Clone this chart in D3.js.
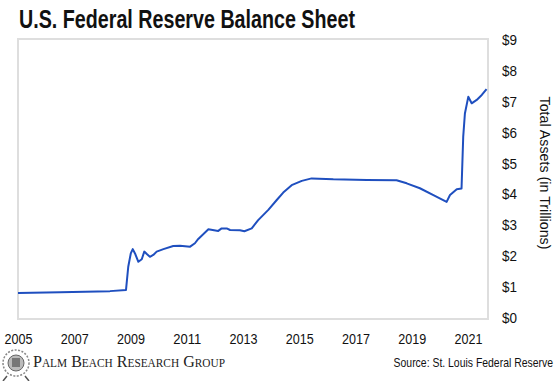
<!DOCTYPE html>
<html>
<head>
<meta charset="utf-8">
<script src="https://cdn.jsdelivr.net/npm/d3@7"></script>
<style>
  body { margin: 0; background: #fff; }
  svg { display: block; }
</style>
</head>
<body>
<div class="chart"></div>
<script>
// data (decimal year, $ trillions)
var years = [2005.0, 2006.5, 2008.27, 2008.84, 2008.92, 2009.01, 2009.08, 2009.16, 2009.28, 2009.4,
  2009.49, 2009.58, 2009.69, 2009.81, 2009.93, 2010.17, 2010.52, 2010.76, 2011.12, 2011.29,
  2011.41, 2011.77, 2012.12, 2012.24, 2012.42, 2012.54, 2012.89, 2013.05, 2013.31, 2013.54,
  2013.9, 2014.2, 2014.43, 2014.73, 2015.09, 2015.44, 2016.21, 2017.4, 2018.46, 2018.82,
  2019.29, 2019.77, 2020.24, 2020.36, 2020.6, 2020.77, 2020.83, 2020.89, 2021.01, 2021.13,
  2021.31, 2021.49, 2021.66];
var assets = [0.81, 0.83, 0.87, 0.91, 1.66, 2.09, 2.23, 2.09, 1.82, 1.9,
  2.15, 2.07, 1.98, 2.04, 2.15, 2.23, 2.33, 2.34, 2.31, 2.42,
  2.56, 2.87, 2.82, 2.9, 2.9, 2.85, 2.84, 2.81, 2.9, 3.17,
  3.5, 3.82, 4.06, 4.3, 4.44, 4.52, 4.49, 4.47, 4.46, 4.36,
  4.2, 3.98, 3.76, 3.98, 4.17, 4.19, 5.87, 6.62, 7.16, 6.95,
  7.06, 7.22, 7.41];
var xTicks = [2005, 2007, 2009, 2011, 2013, 2015, 2017, 2019, 2021];
var yTicks = [0, 1, 2, 3, 4, 5, 6, 7, 8, 9];

var svgWidth = 560;
var svgHeight = 381;

var svg = d3.select(".chart")
  .append("svg")
  .attr("width", svgWidth)
  .attr("height", svgHeight)
  .style("font-family", "'Liberation Sans', Arial, sans-serif");

// plot frame
var frame = { left: 18, right: 488, top: 39, bottom: 319 };

var xScale = d3.scaleLinear().domain([2005, 2021]).range([18, 468]);
var yScale = d3.scaleLinear().domain([0, 9]).range([318, 40]);

// title
svg.append("text")
  .attr("x", 19)
  .attr("y", 28)
  .attr("font-size", 26)
  .attr("font-weight", "bold")
  .attr("fill", "#111")
  .attr("textLength", 336)
  .attr("lengthAdjust", "spacingAndGlyphs")
  .text("U.S. Federal Reserve Balance Sheet");

svg.append("rect")
  .attr("x", frame.left)
  .attr("y", frame.top)
  .attr("width", frame.right - frame.left)
  .attr("height", frame.bottom - frame.top)
  .attr("fill", "none")
  .attr("stroke", "#dedede")
  .attr("stroke-width", 2);

// y axis on the right, labels only
var yAxis = d3.axisRight(yScale)
  .tickValues(yTicks)
  .tickSize(0)
  .tickPadding(0)
  .tickFormat(d => "$" + d);

svg.append("g")
  .attr("transform", "translate(502, 0)")
  .call(yAxis)
  .call(g => g.select(".domain").remove())
  .selectAll("text")
  .attr("font-size", 14)
  .attr("fill", "#111")
  .attr("textLength", 15)
  .attr("lengthAdjust", "spacingAndGlyphs");

// x axis labels
var xAxis = d3.axisBottom(xScale)
  .tickValues(xTicks)
  .tickSize(0)
  .tickPadding(0)
  .tickFormat(d => String(d));

svg.append("g")
  .attr("transform", "translate(0, 334)")
  .call(xAxis)
  .call(g => g.select(".domain").remove())
  .selectAll("text")
  .attr("font-size", 14)
  .attr("fill", "#111")
  .attr("textLength", 28)
  .attr("lengthAdjust", "spacingAndGlyphs");

svg.selectAll(".tick text").attr("font-family", "'Liberation Sans', Arial, sans-serif");

// axis title
svg.append("text")
  .attr("transform", "translate(540, 173) rotate(90)")
  .attr("text-anchor", "middle")
  .attr("font-size", 15)
  .attr("fill", "#111")
  .attr("textLength", 153)
  .attr("lengthAdjust", "spacingAndGlyphs")
  .text("Total Assets (in Trillions)");

// the line
var line = d3.line()
  .x((d, i) => xScale(years[i]))
  .y(d => yScale(d));

svg.append("path")
  .datum(assets)
  .attr("d", line)
  .attr("fill", "none")
  .attr("stroke", "#1f4fbf")
  .attr("stroke-width", 2)
  .attr("stroke-linejoin", "round");

// footer: little seal logo
var logo = svg.append("g").attr("transform", "translate(16, 363)");
logo.append("circle").attr("r", 13).attr("fill", "none").attr("stroke", "#888").attr("stroke-width", 1.5)
  .attr("stroke-dasharray", "2 1.5");
logo.append("circle").attr("r", 8).attr("fill", "#bbb").attr("stroke", "#666").attr("stroke-width", 1);
logo.append("rect").attr("x", -4).attr("y", -5).attr("width", 8).attr("height", 9)
  .attr("fill", "#777");
logo.append("path").attr("d", "M-9,13 L-13,18 M9,13 L13,18").attr("stroke", "#555").attr("stroke-width", 1.5);

svg.append("text")
  .attr("x", 33)
  .attr("y", 367)
  .attr("font-family", "'Liberation Serif', 'Times New Roman', serif")
  .attr("font-size", 17)
  .attr("font-variant", "small-caps")
  .attr("fill", "#222")
  .attr("textLength", 192)
  .attr("lengthAdjust", "spacingAndGlyphs")
  .text("Palm Beach Research Group");

// source note, squeezed horizontally with a transform
svg.append("text")
  .attr("transform", "translate(553, 367) scale(0.87, 1)")
  .attr("text-anchor", "end")
  .attr("font-size", 12)
  .attr("fill", "#111")
  .text("Source: St. Louis Federal Reserve");
</script>
</body>
</html>
